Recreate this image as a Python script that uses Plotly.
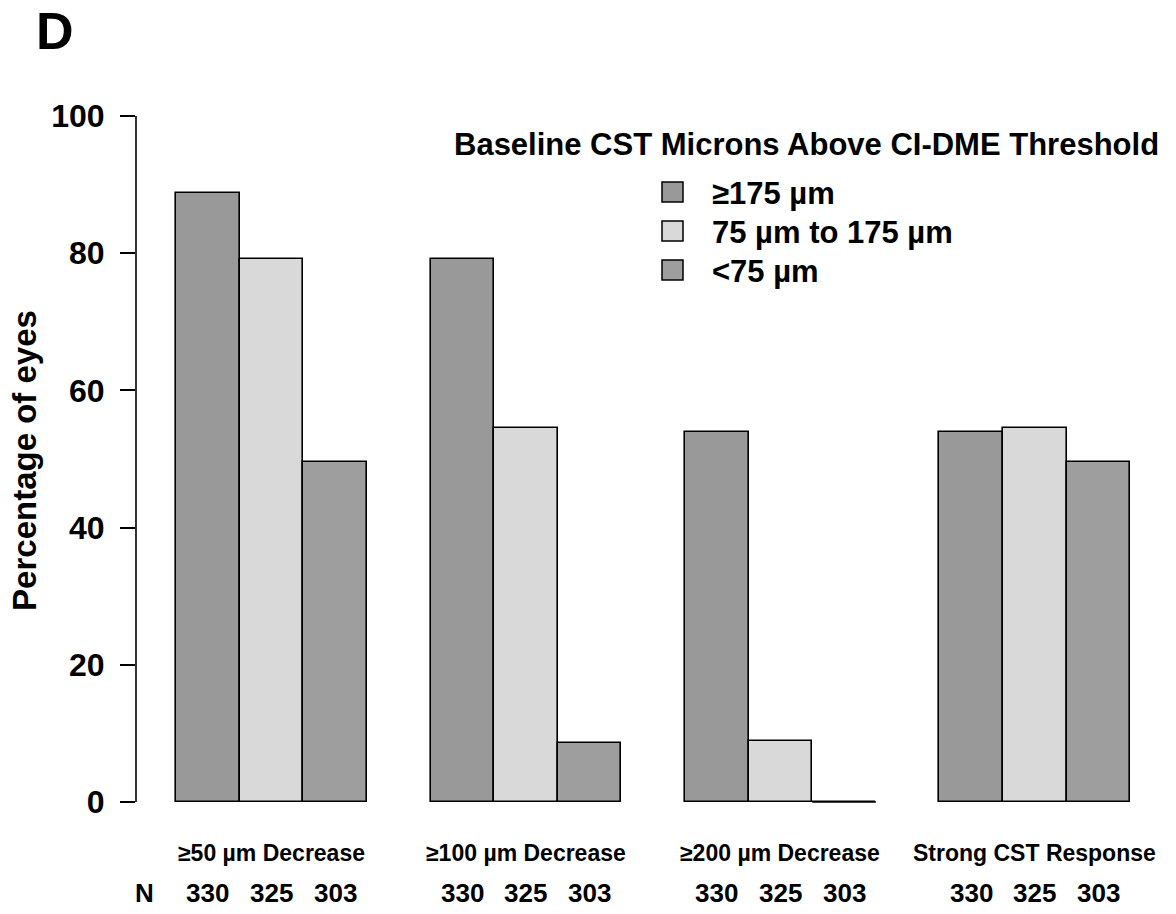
import plotly.graph_objects as go

# Outcome categories and eye counts per baseline CST group
categories = ["≥50 µm Decrease", "≥100 µm Decrease", "≥200 µm Decrease", "Strong CST Response"]
series_names = ["≥175 µm", "75 µm to 175 µm", "<75 µm"]
n_eyes = [330, 325, 303]

# Percentage of eyes per series, one value per category
pct_ge175 = [88.8, 79.1, 53.9, 53.9]
pct_75_175 = [79.1, 54.5, 8.9, 54.5]
pct_lt75 = [49.5, 8.6, 0.0, 49.5]

series_values = [pct_ge175, pct_75_175, pct_lt75]
series_colors = ["#999999", "#d9d9d9", "#9e9e9e"]

yticks = [0, 20, 40, 60, 80, 100]
legend_title = "Baseline CST Microns Above CI-DME Threshold"

FONT = "Liberation Sans, Arial, sans-serif"
n_series = len(series_names)
group_step = n_series + 1  # one empty bar slot between groups

# plot-area geometry in pixels (used to place paper-referenced extras)
W, H = 1176, 914
L, R, T, B = 136, 26, 116, 109
PW, PH = W - L - R, H - T - B


def px_x(x):
    return (x - L) / PW


def px_y(y):
    return 1 - (y - T) / PH


fig = go.Figure()
for s, (name, vals, col) in enumerate(zip(series_names, series_values, series_colors)):
    xs = [g * group_step + s + 0.5 for g in range(len(categories))]
    fig.add_trace(go.Bar(
        x=xs, y=vals, name=name, width=1.0,
        marker=dict(color=col, line=dict(color="black", width=1.6)),
        showlegend=False,
    ))
    # zero-height bars still show their baseline edge
    for x, v in zip(xs, vals):
        if v == 0:
            fig.add_trace(go.Scatter(
                x=[x - 0.5, x + 0.5], y=[v, v], mode="lines",
                line=dict(color="black", width=1.6), showlegend=False, hoverinfo="skip",
            ))

x_min, x_max = -0.63, 15.31
fig.update_xaxes(range=[x_min, x_max], showgrid=False, zeroline=False, showline=False,
                 showticklabels=False, ticks="")
fig.update_yaxes(range=[-0.44, 100], tickvals=yticks, showgrid=False, zeroline=False,
                 showline=False, ticks="outside", ticklen=15, tickwidth=1.6, tickcolor="black",
                 ticklabelstandoff=9,
                 tickfont=dict(family=FONT, size=32, color="black", weight="bold"),
                 title=dict(text="Percentage of eyes", standoff=4,
                            font=dict(family=FONT, size=33, color="black", weight="bold")))

shapes = [dict(type="line", xref="paper", yref="y", x0=0, x1=0, y0=yticks[0], y1=yticks[-1],
               line=dict(color="black", width=1.6))]

annotations = [
    dict(text="D", xref="paper", yref="paper", x=px_x(55), y=px_y(0), xanchor="center",
         yanchor="top", showarrow=False,
         font=dict(family=FONT, size=52, color="black", weight="bold")),
    dict(text=legend_title, xref="paper", yref="paper", x=px_x(1161), y=px_y(144),
         xanchor="right", yanchor="middle", showarrow=False,
         font=dict(family=FONT, size=31, color="black", weight="bold")),
]

# legend entries: swatch + label
for i, (name, col) in enumerate(zip(series_names, series_colors)):
    yc = 192 + i * 39
    shapes.append(dict(type="rect", xref="paper", yref="paper", x0=px_x(662), x1=px_x(683),
                       y0=px_y(yc + 10), y1=px_y(yc - 10), fillcolor=col,
                       line=dict(color="black", width=1.5)))
    annotations.append(dict(text=name, xref="paper", yref="paper",
                            x=px_x(710), y=px_y(yc + 1), xanchor="left",
                            yanchor="middle", showarrow=False,
                            font=dict(family=FONT, size=31, color="black", weight="bold")))

# category labels and N row beneath each group
for g, cat in enumerate(categories):
    centre = g * group_step + n_series / 2
    annotations.append(dict(text=cat, x=centre, xref="x", y=px_y(853), yref="paper",
                            yanchor="middle", showarrow=False,
                            font=dict(family=FONT, size=23, color="black", weight="bold")))
    for s, n in enumerate(n_eyes):
        annotations.append(dict(text=str(n), x=g * group_step + s + 0.5, xref="x",
                                y=px_y(893), yref="paper", yanchor="middle", showarrow=False,
                                font=dict(family=FONT, size=26, color="black", weight="bold")))
annotations.append(dict(text="N", x=-0.5, xref="x", y=px_y(893), yref="paper",
                        yanchor="middle", showarrow=False,
                        font=dict(family=FONT, size=26, color="black", weight="bold")))

fig.update_layout(
    width=W, height=H,
    margin=dict(l=L, r=R, t=T, b=B),
    plot_bgcolor="white", paper_bgcolor="white",
    bargap=0, barmode="overlay",
    shapes=shapes, annotations=annotations,
)

fig.write_html("out.html")
